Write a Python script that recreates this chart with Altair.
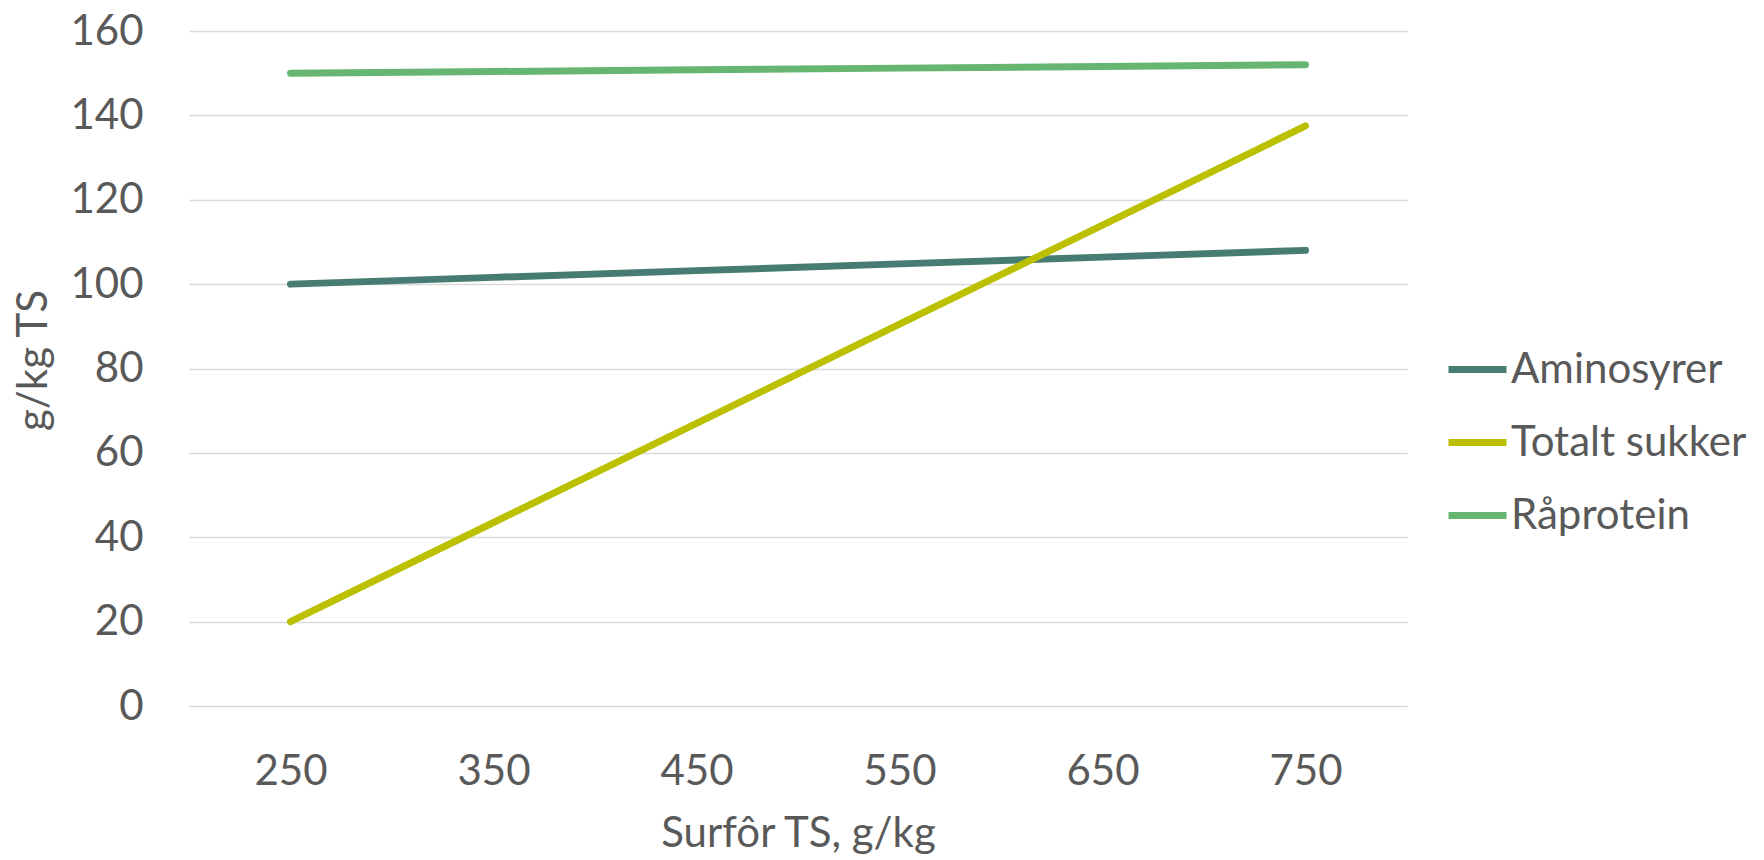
import altair as alt
import pandas as pd

categories = [250, 350, 450, 550, 650, 750]
aminosyrer = [100, 101.6, 103.2, 104.8, 106.4, 108]
totalt_sukker = [20, 43.5, 67, 90.5, 114, 137.5]
raprotein = [150, 150.4, 150.8, 151.2, 151.6, 152]

series_names = ["Aminosyrer", "Totalt sukker", "Råprotein"]
series_colors = ["#467C71", "#BBC000", "#66B672"]
y_ticks = [0, 20, 40, 60, 80, 100, 120, 140, 160]

rows = []
for name, vals in zip(series_names, [aminosyrer, totalt_sukker, raprotein]):
    for c, v in zip(categories, vals):
        rows.append({"x": c, "y": v, "serie": name})
df = pd.DataFrame(rows)

FONT = "Lato"
GREY = "#595959"

chart = alt.Chart(df).mark_line(strokeWidth=7, strokeCap="round", strokeJoin="round").encode(
    x=alt.X("x:O", sort=categories,
            scale=alt.Scale(type="point", padding=0.5),
            axis=alt.Axis(title="Surfôr TS, g/kg", labelAngle=0, grid=False, ticks=False,
                          domain=False, labelPadding=45, labelFontSize=42,
                          titleFontSize=42, titleFontWeight="normal",
                          titleBaseline="middle", titleY=127)),
    y=alt.Y("y:Q", scale=alt.Scale(domain=[0, 160], nice=False),
            axis=alt.Axis(title="g/kg TS", values=y_ticks, ticks=False, domain=False,
                          labelPadding=46, labelFontSize=42, gridColor="#D9D9D9",
                          gridWidth=1.6, titleFontSize=42, titleFontWeight="normal",
                          titleAngle=-90, titleBaseline="middle", titleAlign="center",
                          titleX=-156, titleY=329)),
    color=alt.Color("serie:N",
                    scale=alt.Scale(domain=series_names, range=series_colors),
                    legend=alt.Legend(title=None, orient="none", legendX=1256, legendY=306,
                                      symbolType="stroke", symbolSize=3364,
                                      symbolStrokeWidth=7, labelFontSize=42,
                                      labelOffset=1, rowPadding=19, padding=0,
                                      labelLimit=0, labelColor=GREY)),
    order=alt.Order("x:Q"),
).properties(
    width=1218, height=675,
    autosize=alt.AutoSizeParams(type="none"),
    padding={"left": 181, "top": 23, "right": 346, "bottom": 150},
).configure(
    font=FONT,
).configure_axis(
    labelColor=GREY, titleColor=GREY, labelFont=FONT, titleFont=FONT,
).configure_legend(
    labelFont=FONT,
).configure_view(stroke=None)

chart.save("out.html", embed_options={"renderer": "svg", "actions": False})
